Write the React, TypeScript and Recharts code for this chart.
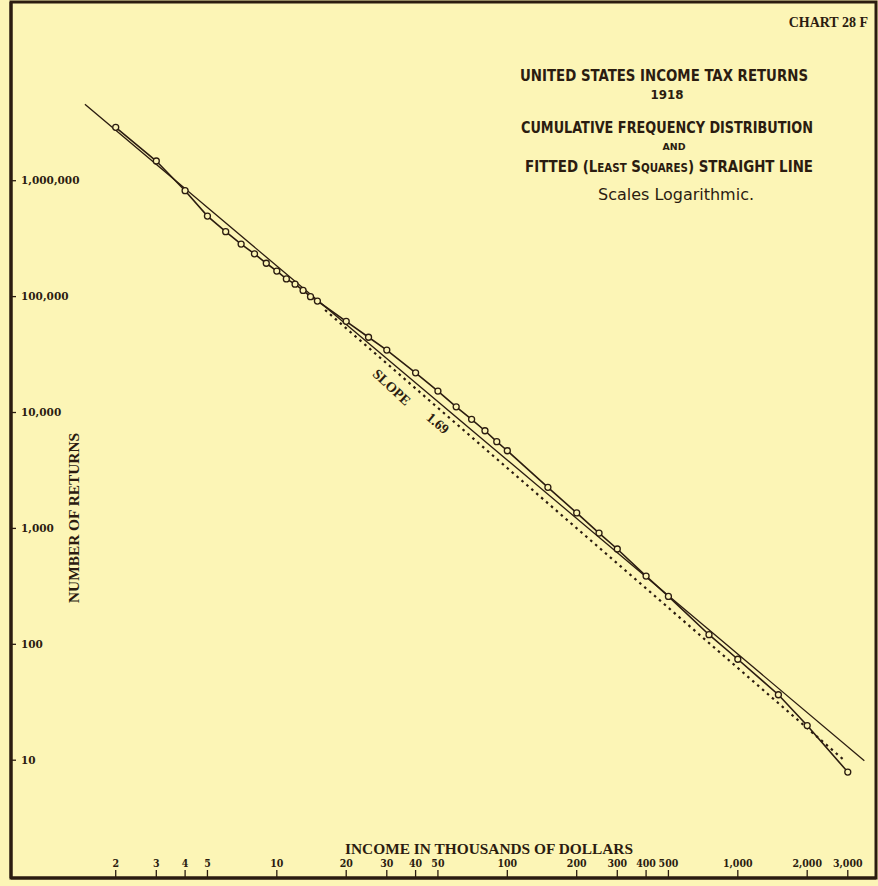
import { LineChart, Line, XAxis, YAxis } from 'recharts';

// income class lower limit, thousands of dollars
const incomeThousands = [
  2, 3, 4, 5, 6, 7, 8, 9, 10, 11, 12, 13, 14, 15, 20, 25, 30, 40, 50, 60, 70, 80, 90, 100,
  150, 200, 250, 300, 400, 500, 750, 1000, 1500, 2000, 3000,
];
// number of returns with income at or above that limit
const returnsAbove = [
  2890000, 1479000, 820000, 495000, 363000, 284000, 234000, 194000, 166000, 142000, 128000,
  113000, 99800, 91600, 61200, 44600, 34600, 22000, 15300, 11200, 8730, 6960, 5600, 4680,
  2260, 1360, 912, 664, 388, 259, 121, 74.3, 36.7, 19.9, 7.9,
];

// fitted (least squares) straight line, end points
const fittedIncome = [1.47, 3540];
const fittedReturns = [4560000, 9.9];

// dotted line, slope 1.69
const slopeIncome = [16.2, 2860];
const slopeReturns = [76600, 10.2];

const xTicks = [2, 3, 4, 5, 10, 20, 30, 40, 50, 100, 200, 300, 400, 500, 1000, 2000, 3000];
const yTicks = [10, 100, 1000, 10000, 100000, 1000000];

const INK = '#2b1c10';
const PAPER = '#fcf5b6';

const observed = incomeThousands.map((x, i) => ({ x, y: returnsAbove[i] }));
const fitted = fittedIncome.map((x, i) => ({ x, y: fittedReturns[i] }));
const slopeLine = slopeIncome.map((x, i) => ({ x, y: slopeReturns[i] }));

const fmt = (v: number) => v.toLocaleString('en-US');

const yTickFont = {
  fill: INK,
  fontSize: 10.5,
  fontFamily: '"DejaVu Serif", serif',
  fontWeight: 'bold',
};

const xTickFont = {
  fill: INK,
  fontSize: 10.5,
  fontFamily: '"DejaVu Serif Condensed", "DejaVu Serif", serif',
  fontStretch: 'condensed',
  fontWeight: 'bold',
};

const letterFont = '"DejaVu Sans Condensed", "DejaVu Sans", sans-serif';
const serifFont = '"Liberation Serif", serif';

function Titles() {
  return (
    <svg
      width={878}
      height={886}
      style={{ position: 'absolute', left: 0, top: 0, pointerEvents: 'none' }}
    >
      <rect x={11} y={2} width={865} height={876} fill="none" stroke={INK} strokeWidth={3} />
      <text x={868} y={27} textAnchor="end" fill={INK} fontFamily={serifFont} fontWeight="bold" fontSize={14}>
        CHART 28 F
      </text>
      <g fill={INK} fontFamily={letterFont} fontWeight="bold" textAnchor="middle">
        <text x={664} y={81} fontSize={15} textLength={288} lengthAdjust="spacingAndGlyphs">
          UNITED STATES INCOME TAX RETURNS
        </text>
        <text x={667} y={99} fontSize={13} textLength={33} lengthAdjust="spacingAndGlyphs">
          1918
        </text>
        <text x={667} y={133} fontSize={15} textLength={292} lengthAdjust="spacingAndGlyphs">
          CUMULATIVE FREQUENCY DISTRIBUTION
        </text>
        <text x={674} y={150} fontSize={9.5} textLength={23} lengthAdjust="spacingAndGlyphs">
          AND
        </text>
        <text x={669} y={171.5} fontSize={15} textLength={288} lengthAdjust="spacingAndGlyphs">
          FITTED (L<tspan fontSize={11.5}>EAST</tspan> S<tspan fontSize={11.5}>QUARES</tspan>) STRAIGHT LINE
        </text>
        <text x={676} y={200} fontSize={15} fontWeight="normal" textLength={156} lengthAdjust="spacingAndGlyphs">
          Scales Logarithmic.
        </text>
      </g>
      <text
        x={489}
        y={854}
        textAnchor="middle"
        fill={INK}
        fontFamily={serifFont}
        fontWeight="bold"
        fontSize={14}
        textLength={288}
        lengthAdjust="spacingAndGlyphs"
      >
        INCOME IN THOUSANDS OF DOLLARS
      </text>
      <text
        x={79}
        y={518}
        transform="rotate(-90, 79, 518)"
        textAnchor="middle"
        fill={INK}
        fontFamily={serifFont}
        fontWeight="bold"
        fontSize={14}
        textLength={170}
        lengthAdjust="spacingAndGlyphs"
      >
        NUMBER OF RETURNS
      </text>
      <text
        x={392}
        y={392}
        transform="rotate(43, 392, 387)"
        textAnchor="middle"
        fill={INK}
        fontFamily={serifFont}
        fontWeight="bold"
        fontSize={14}
      >
        SLOPE
      </text>
      <text
        x={438}
        y={428}
        transform="rotate(40, 438, 423)"
        textAnchor="middle"
        fill={INK}
        fontFamily={serifFont}
        fontWeight="bold"
        fontSize={14}
      >
        1.69
      </text>
    </svg>
  );
}

export default function App() {
  return (
    <div style={{ position: 'absolute', left: 0, top: 0, width: 878, height: 886, background: PAPER }}>
      <LineChart
        width={878}
        height={886}
        margin={{ top: 2, right: 2, bottom: 8, left: 11 }}
        style={{ background: PAPER }}
      >
        <XAxis
          dataKey="x"
          type="number"
          scale="log"
          domain={[0.7026, 3977]}
          allowDataOverflow
          ticks={xTicks}
          interval={0}
          mirror
          tickFormatter={fmt}
          tick={xTickFont}
          tickSize={8}
          tickMargin={3}
          tickLine={{ stroke: INK, strokeWidth: 1.3 }}
          axisLine={{ stroke: INK, strokeWidth: 3 }}
        />
        <YAxis
          dataKey="y"
          type="number"
          scale="log"
          domain={[0.963, 34830000]}
          allowDataOverflow
          ticks={yTicks}
          interval={0}
          mirror
          tickFormatter={fmt}
          tick={yTickFont}
          tickSize={5}
          tickMargin={5}
          tickLine={{ stroke: INK, strokeWidth: 1.3 }}
          axisLine={{ stroke: INK, strokeWidth: 3 }}
        />
        <Line
          data={slopeLine}
          dataKey="y"
          type="linear"
          stroke={INK}
          strokeWidth={2.2}
          strokeDasharray="2.5 4"
          dot={false}
          isAnimationActive={false}
        />
        <Line
          data={fitted}
          dataKey="y"
          type="linear"
          stroke={INK}
          strokeWidth={1.3}
          dot={false}
          isAnimationActive={false}
        />
        <Line
          data={observed}
          dataKey="y"
          type="linear"
          stroke={INK}
          strokeWidth={1.6}
          dot={{ r: 3, fill: PAPER, stroke: INK, strokeWidth: 1.3 }}
          isAnimationActive={false}
        />
      </LineChart>
      <Titles />
    </div>
  );
}
